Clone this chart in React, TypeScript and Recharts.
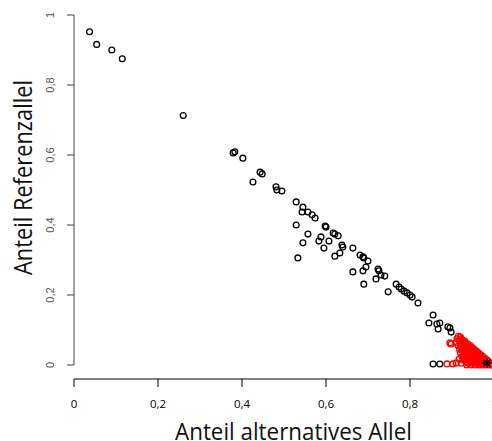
import { ScatterChart, Scatter, XAxis, YAxis, ReferenceLine, Label } from 'recharts'

// proportion alternative allele (x) vs. proportion reference allele (y)
const blackPoints: [number, number][] = [
  [0.037, 0.952], [0.054, 0.916], [0.09, 0.9], [0.115, 0.875], [0.26, 0.713],
  [0.379, 0.606], [0.383, 0.609], [0.402, 0.591], [0.426, 0.523], [0.443, 0.551],
  [0.448, 0.546], [0.481, 0.509], [0.483, 0.5], [0.495, 0.497], [0.529, 0.466],
  [0.545, 0.451], [0.543, 0.437], [0.557, 0.437], [0.567, 0.429], [0.574, 0.42],
  [0.529, 0.4], [0.557, 0.374], [0.545, 0.349], [0.533, 0.306], [0.598, 0.397],
  [0.6, 0.394], [0.617, 0.377], [0.621, 0.374], [0.629, 0.369], [0.588, 0.366],
  [0.583, 0.354], [0.607, 0.354], [0.595, 0.334], [0.638, 0.343], [0.64, 0.337],
  [0.633, 0.32], [0.621, 0.311], [0.664, 0.334], [0.681, 0.314], [0.688, 0.309],
  [0.69, 0.306], [0.7, 0.297], [0.695, 0.28], [0.688, 0.269], [0.664, 0.266],
  [0.69, 0.231], [0.724, 0.274], [0.726, 0.269], [0.731, 0.257], [0.74, 0.254],
  [0.719, 0.246], [0.748, 0.209], [0.767, 0.231], [0.774, 0.223], [0.779, 0.217],
  [0.786, 0.211], [0.793, 0.206], [0.8, 0.2], [0.805, 0.194], [0.819, 0.177],
  [0.855, 0.143], [0.845, 0.12], [0.864, 0.117], [0.871, 0.12], [0.867, 0.103],
  [0.89, 0.109], [0.895, 0.106], [0.898, 0.094], [0.855, 0.003], [0.871, 0.003]
]

const redPoints: [number, number][] = [
  [0.895, 0.063], [0.898, 0.06], [0.888, 0.003], [0.902, 0.003], [0.91, 0.006],
  [0.917, 0.017], [0.929, 0.017],
  [0.915, 0.082], [0.92, 0.08],
  [0.912, 0.075], [0.922, 0.075],
  [0.918, 0.07], [0.926, 0.07], [0.93, 0.068],
  [0.91, 0.065], [0.925, 0.065], [0.932, 0.065],
  [0.92, 0.06], [0.93, 0.06], [0.938, 0.06],
  [0.915, 0.055], [0.928, 0.055], [0.936, 0.055], [0.944, 0.055],
  [0.922, 0.05], [0.934, 0.05], [0.942, 0.05], [0.948, 0.05],
  [0.918, 0.045], [0.93, 0.045], [0.94, 0.045], [0.948, 0.045], [0.953, 0.045],
  [0.925, 0.04], [0.936, 0.04], [0.945, 0.04], [0.952, 0.04], [0.958, 0.04],
  [0.92, 0.035], [0.932, 0.035], [0.942, 0.035], [0.95, 0.035], [0.957, 0.035], [0.963, 0.035],
  [0.928, 0.03], [0.938, 0.03], [0.947, 0.03], [0.955, 0.03], [0.962, 0.03], [0.968, 0.03],
  [0.924, 0.025], [0.935, 0.025], [0.944, 0.025], [0.952, 0.025], [0.96, 0.025], [0.966, 0.025], [0.973, 0.025],
  [0.93, 0.02], [0.94, 0.02], [0.95, 0.02], [0.958, 0.02], [0.965, 0.02], [0.971, 0.02], [0.978, 0.02],
  [0.926, 0.015], [0.937, 0.015], [0.946, 0.015], [0.955, 0.015], [0.962, 0.015], [0.969, 0.015], [0.976, 0.015], [0.983, 0.015],
  [0.932, 0.01], [0.943, 0.01], [0.952, 0.01], [0.96, 0.01], [0.967, 0.01], [0.974, 0.01], [0.98, 0.01], [0.987, 0.01],
  [0.922, 0.005], [0.938, 0.005], [0.948, 0.005], [0.957, 0.005], [0.965, 0.005], [0.972, 0.005], [0.979, 0.005], [0.986, 0.005], [0.992, 0.005],
  [0.935, 0], [0.945, 0], [0.955, 0], [0.963, 0], [0.97, 0], [0.977, 0], [0.984, 0], [0.991, 0], [0.997, 0]
]

const starPoints: [number, number][] = [[0.983, 0.006]]

const xTicks = [0, 0.2, 0.4, 0.6, 0.8, 1]
const xTickLabels = ['0', '0,2', '0,4', '0,6', '0,8', '1']
const yTicks = [0, 0.2, 0.4, 0.6, 0.8, 1]
const yTickLabels = ['0', '0,2', '0,4', '0,6', '0,8', '1']

const toRows = (pts: [number, number][]) => pts.map(([x, y]) => ({ x, y }))

const OpenCircle = (color: string, sw: number) => (p: any) => (
  <circle cx={p.cx} cy={p.cy} r={2.9} fill="none" stroke={color} strokeWidth={sw} />
)

const Star = (p: any) => (
  <g stroke="#000" strokeWidth={1.2}>
    <line x1={p.cx - 5} y1={p.cy} x2={p.cx + 5} y2={p.cy} />
    <line x1={p.cx} y1={p.cy - 5} x2={p.cx} y2={p.cy + 5} />
    <line x1={p.cx - 3.6} y1={p.cy - 3.6} x2={p.cx + 3.6} y2={p.cy + 3.6} />
    <line x1={p.cx - 3.6} y1={p.cy + 3.6} x2={p.cx + 3.6} y2={p.cy - 3.6} />
  </g>
)

const XTick = (p: any) => {
  const i = xTicks.indexOf(p.payload.value)
  return (
    <text x={p.x} y={408} textAnchor="middle" fontSize={11.5} fontFamily="'Open Sans', sans-serif"
      fill="#000" style={{ fill: '#000' }}>
      {xTickLabels[i]}
    </text>
  )
}

const YTick = (p: any) => {
  const i = yTicks.indexOf(p.payload.value)
  return (
    <text x={54} y={p.y} transform={`rotate(-90 54 ${p.y})`} textAnchor="middle" fontSize={11}
      fontFamily="'Liberation Sans', Arial, sans-serif" fill="#555">
      {yTickLabels[i]}
    </text>
  )
}

export default function App() {
  return (
    <div style={{ width: 492, height: 441, overflow: 'hidden', background: '#fff' }}>
      <style>{'body{margin:0}'}</style>
      <ScatterChart width={500} height={441} margin={{ top: 15, right: 6, bottom: 0, left: 0 }}>
        <XAxis type="number" dataKey="x" domain={[0, 1]} ticks={xTicks} tickSize={8}
          stroke="#000" tick={XTick} height={62} allowDataOverflow>
          <Label content={() => (
            <text x={293.5} y={440} textAnchor="middle" fontSize={24} textLength={237}
              lengthAdjust="spacingAndGlyphs" fontFamily="'Open Sans', sans-serif" fill="#111">
              Anteil alternatives Allel
            </text>
          )} />
        </XAxis>
        <YAxis type="number" dataKey="y" domain={[-0.04, 1]} ticks={yTicks} tickSize={7}
          axisLine={false} tickLine={{ stroke: '#444' }} tick={YTick} width={74} allowDataOverflow>
          <Label content={() => (
            <text x={32} y={177.5} transform="rotate(-90 32 177.5)" textAnchor="middle" fontSize={25}
              textLength={195} lengthAdjust="spacingAndGlyphs"
              fontFamily="'Open Sans', sans-serif" fill="#111">
              Anteil Referenzallel
            </text>
          )} />
        </YAxis>
        <ReferenceLine segment={[{ x: 0, y: 0 }, { x: 0, y: 1 }]} stroke="#444" ifOverflow="visible" />
        <Scatter data={toRows(blackPoints)} shape={OpenCircle('#000', 1.3)} isAnimationActive={false} />
        <Scatter data={toRows(redPoints)} shape={OpenCircle('#ff0000', 1.4)} isAnimationActive={false} />
        <Scatter data={toRows(starPoints)} shape={Star} isAnimationActive={false} />
      </ScatterChart>
    </div>
  )
}
